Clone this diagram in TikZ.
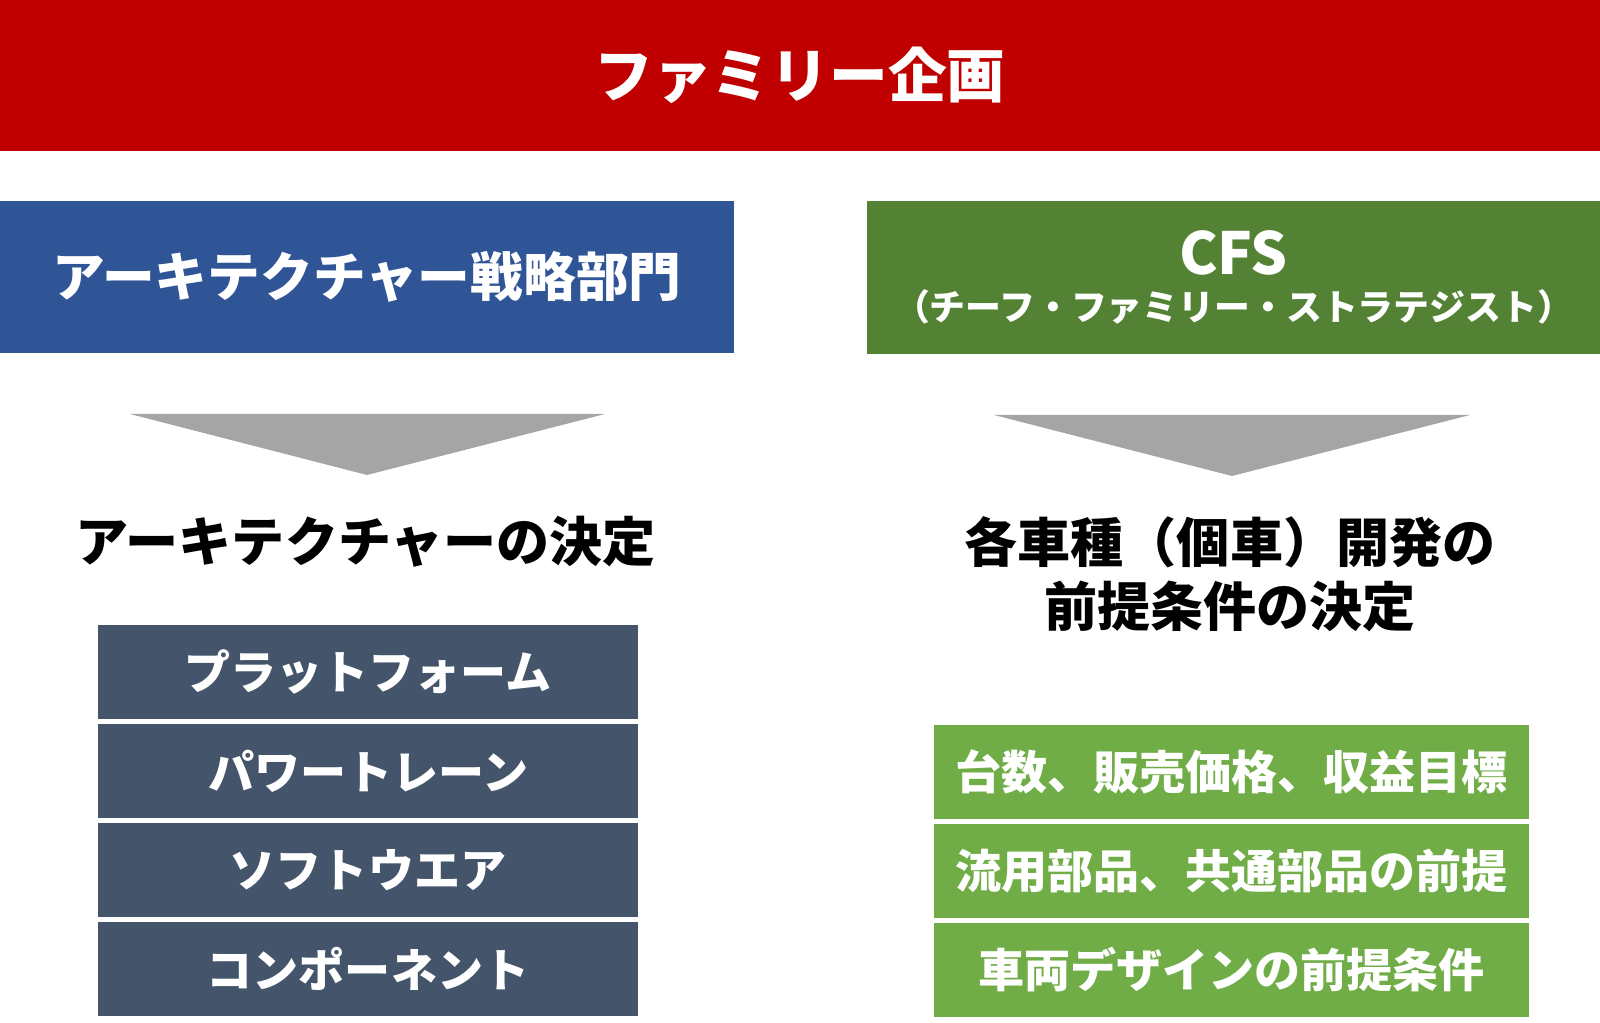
\documentclass[tikz,border=0pt]{standalone}
\usepackage{fontspec}
\setmainfont{Noto Sans CJK JP}
\usetikzlibrary{positioning}
\definecolor{famred}{HTML}{C00000}
\definecolor{archblue}{HTML}{2F5597}
\definecolor{cfsgreen}{HTML}{548235}
\definecolor{arrowgray}{HTML}{A5A5A5}
\definecolor{slate}{HTML}{44546A}
\definecolor{leafgreen}{HTML}{70AD47}

\begin{document}
\begin{tikzpicture}[
        band/.style={inner sep=0pt, outer sep=0pt, text=white, align=center},
        item/.style={inner sep=0pt, outer sep=0pt, text=white, minimum height=0.94cm,
            font=\bfseries\fontsize{13.1}{15}\selectfont},
        architem/.style={item, fill=slate, minimum width=5.40cm},
        caritem/.style={item, fill=leafgreen, minimum width=5.95cm},
        heading/.style={align=center, font=\bfseries\fontsize{15.1}{18.2}\selectfont}
    ]
        \useasboundingbox (0,0) rectangle (16,-10.23);

        % Draw the top bar
        \node[band, fill=famred, minimum width=16cm, minimum height=1.51cm,
            font=\bfseries\fontsize{16.7}{20}\selectfont] (family) at (8,-0.755) {ファミリー企画};

        % Draw the two departments
        \node[band, fill=archblue, minimum width=7.34cm, minimum height=1.52cm,
            font=\bfseries\fontsize{15}{18}\selectfont] (arch) at (3.67,-2.77) {アーキテクチャー戦略部門};
        \node[band, fill=cfsgreen, minimum width=7.33cm, minimum height=1.53cm] (cfs) at (12.335,-2.775)
            {{\bfseries\fontsize{16.5}{18}\selectfont CFS}\\[1pt]
             {\bfseries\fontsize{10.2}{12}\selectfont （チーフ・ファミリー・ストラテジスト）}};

        % Draw the arrows
        \fill[arrowgray] (1.30,-4.14) -- (6.05,-4.14) -- (3.67,-4.75) -- cycle;
        \fill[arrowgray] (9.94,-4.15) -- (14.70,-4.15) -- (12.32,-4.76) -- cycle;

        % Draw the headings
        \node[heading] (archhead) at (3.66,-5.42) {アーキテクチャーの決定};
        \node[heading] (carhead) at (12.30,-5.74) {各車種（個車）開発の\\前提条件の決定};

        % Draw the left stack
        \node[architem] (platform) at (3.68,-6.72) {プラットフォーム};
        \node[architem, below=0.05cm of platform] (powertrain) {パワートレーン};
        \node[architem, below=0.05cm of powertrain] (software) {ソフトウエア};
        \node[architem, below=0.05cm of software] (component) {コンポーネント};

        % Draw the right stack
        \node[caritem] (volume) at (12.315,-7.72) {台数、販売価格、収益目標};
        \node[caritem, below=0.05cm of volume] (parts) {流用部品、共通部品の前提};
        \node[caritem, below=0.05cm of parts] (design) {車両デザインの前提条件};

        \end{tikzpicture}
\end{document}
